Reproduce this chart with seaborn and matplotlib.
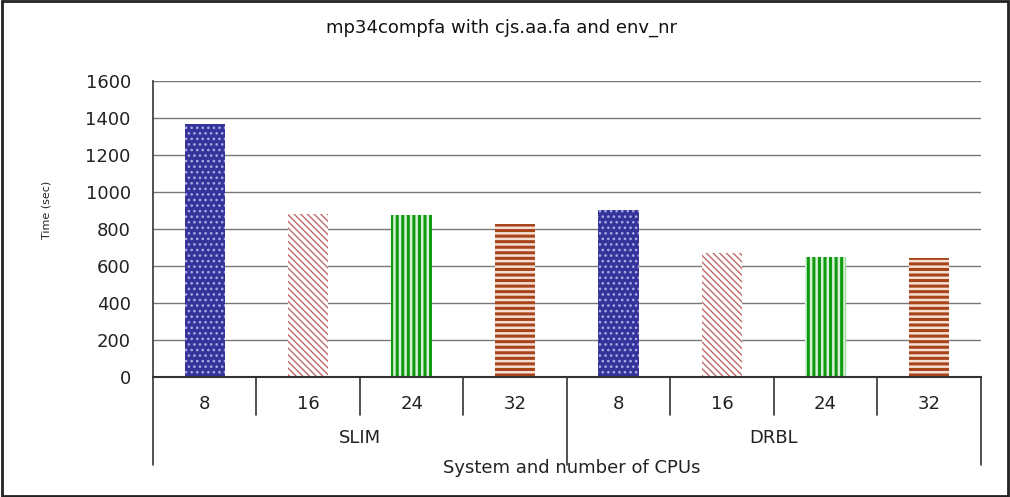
import matplotlib
matplotlib.use("Agg")
import matplotlib.pyplot as plt
import matplotlib.transforms as mtransforms
import seaborn as sns
import pandas as pd
import numpy as np

systems = ["SLIM", "SLIM", "SLIM", "SLIM", "DRBL", "DRBL", "DRBL", "DRBL"]
cpus = ["8", "16", "24", "32", "8", "16", "24", "32"]
times = [1365, 880, 876, 825, 902, 672, 650, 641]
group_names = ["SLIM", "DRBL"]
cpu_levels = ["8", "16", "24", "32"]
yticks = [0, 200, 400, 600, 800, 1000, 1200, 1400, 1600]

title = "mp34compfa with cjs.aa.fa and env_nr"
xlabel = "System and number of CPUs"
ylabel = "Time (sec)"

face_colors = {"8": "#333399", "16": "white", "24": "#d8f0d8", "32": "#f6e0d6"}
hatch_colors = {"8": "#a8a8e8", "16": "#c06868", "24": "#109a10", "32": "#a8441a"}
hatches = {"8": "...", "16": "\\\\\\\\\\", "24": "|||", "32": "---"}
hatch_widths = {"8": 1.1, "16": 1.0, "24": 2.2, "32": 2.2}

sns.set_style("white")
plt.rcParams["font.family"] = ["DejaVu Sans"]
plt.rcParams["hatch.linewidth"] = 1.1

df = pd.DataFrame({
    "pos": [f"{s}-{c}" for s, c in zip(systems, cpus)],
    "system": systems,
    "cpus": cpus,
    "time": times,
})

fig = plt.figure(figsize=(10.10, 4.97), dpi=100)
ax = fig.add_axes([0.1515, 0.2414, 0.8195, 0.5956])

sns.barplot(data=df, x="pos", y="time", hue="cpus", hue_order=cpu_levels,
            dodge=False, width=0.39, ax=ax, legend=False, saturation=1)

for level, cont in zip(cpu_levels, ax.containers):
    for bar in cont:
        bar.set_facecolor(face_colors[level])
        bar.set_edgecolor(hatch_colors[level])
        bar.set_hatch(hatches[level])
        bar.set_linewidth(0)
        if hasattr(bar, "set_hatch_linewidth"):
            bar.set_hatch_linewidth(hatch_widths[level])
        else:
            bar._hatch_linewidth = hatch_widths[level]

ax.set_ylim(0, 1600)
ax.set_xlim(-0.5, len(times) - 0.5)
ax.set_yticks(yticks)
ax.set_yticklabels([str(v) for v in yticks], fontsize=13, color="#222222")
ax.yaxis.grid(True, color="#777777", linewidth=1)
ax.set_axisbelow(True)
ax.tick_params(axis="y", length=5, width=1, color="#333333", direction="in", pad=16)
ax.set_xticks([])
ax.set_xlabel("")
ax.set_ylabel("")
for sp in ["top", "right"]:
    ax.spines[sp].set_visible(False)
ax.spines["left"].set_color("#333333")
ax.spines["bottom"].set_color("#333333")
ax.spines["bottom"].set_linewidth(1.5)
ax.spines["left"].set_linewidth(1.2)

trans = mtransforms.blended_transform_factory(ax.transData, fig.transFigure)
y_axis = 0.2414
y_lvl1 = 1 - 415 / 497
y_lvl2 = 1 - 465 / 497
n = len(times)
for i in range(n + 1):
    x = i - 0.5
    ybot = y_lvl2 if i in (0, n, n // 2) else y_lvl1
    ax.plot([x, x], [y_axis, ybot], transform=trans, color="#333333",
            linewidth=1.2, clip_on=False)
for i, c in enumerate(cpus):
    ax.text(i, 1 - 404 / 497, c, transform=trans, ha="center", va="center",
            fontsize=13, color="#222222")
for g, name in enumerate(group_names):
    ax.text(g * 4 + 1.5, 1 - 438 / 497, name, transform=trans, ha="center",
            va="center", fontsize=13, color="#222222")

fig.text(0.5665, 1 - 468 / 497, xlabel, ha="center", va="center", fontsize=13,
         color="#222222")
fig.text(0.497, 1 - 28 / 497, title, ha="center", va="center", fontsize=13,
         color="#111111")
fig.text(0.046, 1 - 210 / 497, ylabel, ha="center", va="center", rotation=90,
         fontsize=8, color="#222222")

border = plt.Rectangle((0.002, 0.003), 0.996, 0.994, transform=fig.transFigure,
                       fill=False, edgecolor="#222222", linewidth=2)
fig.patches.append(border)

fig.savefig("out.png", dpi=100, facecolor="white")
